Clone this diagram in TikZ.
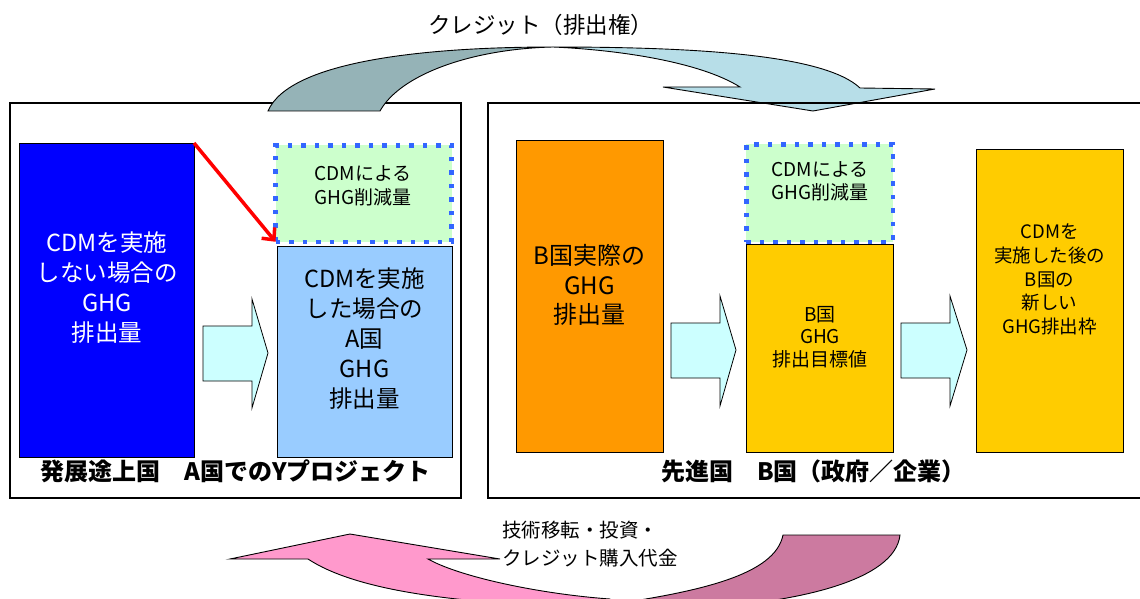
\documentclass[tikz,border=0pt]{standalone}
\usepackage{fontspec}
\setmainfont{Noto Sans CJK JP}
\usetikzlibrary{arrows.meta}
\definecolor{cdmblue}{HTML}{0000FF}
\definecolor{lightblue}{HTML}{99CCFF}
\definecolor{cdmgreen}{HTML}{CCFFCC}
\definecolor{dotblue}{HTML}{3366FF}
\definecolor{orangebox}{HTML}{FF9900}
\definecolor{yellowbox}{HTML}{FFCC00}
\definecolor{arrowcyan}{HTML}{CCFFFF}
\definecolor{topgrey}{HTML}{95B3B7}
\definecolor{topcyan}{HTML}{B7DEE8}
\definecolor{pinklight}{HTML}{FF99CC}
\definecolor{pinkdark}{HTML}{CC7AA0}
\begin{document}
\begin{tikzpicture}[x=1pt,y=-1pt,
  box/.style={draw=black, line width=0.8pt, inner sep=0pt, outer sep=0pt},
  dotbox/.style={draw=dotblue, line width=4.5pt, dash pattern=on 4.5pt off 9pt, fill=cdmgreen, inner sep=0pt, outer sep=0pt},
  frame/.style={draw=black, line width=1.2pt},
  lbl/.style={align=center, inner sep=0pt},
  blockarrow/.style={draw=black, line width=0.8pt, fill=arrowcyan, line join=miter},
  curvarrow/.style={draw=black, line width=0.9pt, line join=miter},
  heading/.style={inner sep=0pt, font=\bfseries\fontsize{24}{28}\selectfont}
]
\path[use as bounding box] (0,0) rectangle (1140,599);

% frames and top curved arrow
\draw[frame] (10,103) rectangle (461,498);
\draw[curvarrow, fill=topgrey] (268,111) .. controls (290,60) and (430,47) .. (553,47)
  .. controls (470,49) and (400,75) .. (380,111) -- cycle;
\draw[curvarrow, fill=topcyan] (553,47) .. controls (700,47) and (825,55) .. (860,88)
  -- (935,89) -- (813,111) -- (663,87) -- (740,87)
  .. controls (700,62) and (620,50) .. (553,47) -- cycle;
\draw[frame] (1145,103) -- (488,103) -- (488,498) -- (1145,498);

\node[inner sep=0pt, font=\fontsize{22.5}{26}\selectfont] (credit) at (540.5,25) {クレジット（排出権）};

% left panel
\node[box, fill=cdmblue, minimum width=175pt, minimum height=314pt] (blueA) at (106.5,300) {};
\node[box, fill=lightblue, minimum width=175pt, minimum height=211pt] (lbA) at (364.5,351.5) {};
\node[dotbox, minimum width=176pt, minimum height=96.5pt] (gA) at (363.5,193.5) {};
\node[lbl, text=white, font=\fontsize{23.5}{30}\selectfont] (tBlue) at (107,288) {CDMを実施\\しない場合の\\GHG\\排出量};
\node[lbl, font=\fontsize{23.5}{30}\selectfont] (tLB) at (364.5,339) {CDMを実施\\した場合の\\A国\\GHG\\排出量};
\node[lbl, font=\fontsize{19}{24}\selectfont] (tGA) at (363,186) {CDMによる\\GHG削減量};
\draw[blockarrow] (203,326) -- (252,326) -- (252,299) -- (268,353) -- (252,408) -- (252,381) -- (203,381) -- cycle;
\draw[red, line width=3.5pt, -{Straight Barb[length=9pt,width=17pt]}] (blueA.north east) -- (gA.south west);
\node[heading] (labA) at (235.5,471) {発展途上国　A国でのYプロジェクト};

% right panel
\node[box, fill=orangebox, minimum width=147pt, minimum height=312pt] (orB) at (589.5,296) {};
\node[box, fill=yellowbox, minimum width=147pt, minimum height=208pt] (ymB) at (819.5,348) {};
\node[dotbox, minimum width=146.5pt, minimum height=97.5pt] (gB) at (819.5,193) {};
\node[box, fill=yellowbox, minimum width=147pt, minimum height=303pt] (yrB) at (1049.5,300.5) {};
\node[lbl, font=\fontsize{24}{29.5}\selectfont] (tOr) at (589.5,285) {B国実際の\\GHG\\排出量};
\node[lbl, font=\fontsize{19}{23}\selectfont] (tGB) at (820,181.5) {CDMによる\\GHG削減量};
\node[lbl, font=\fontsize{19}{22.5}\selectfont] (tYM) at (820,337) {B国\\GHG\\排出目標値};
\node[lbl, font=\fontsize{18.5}{23.75}\selectfont] (tYR) at (1049.5,279.5) {CDMを\\実施した後の\\B国の\\新しい\\GHG排出枠};
\draw[blockarrow] (671,323) -- (720,323) -- (720,296) -- (736,350) -- (720,406) -- (720,378) -- (671,378) -- cycle;
\draw[blockarrow] (901,323) -- (950,323) -- (950,296) -- (967,350) -- (950,406) -- (950,378) -- (901,378) -- cycle;
\node[heading] (labB) at (813.5,471) {先進国　B国（政府／企業）};

% bottom curved arrow
\draw[curvarrow, fill=pinkdark] (600,606) .. controls (700,592) and (775,575) .. (783,535)
  -- (900,535) .. controls (895,580) and (800,602) .. (700,608) -- cycle;
\draw[curvarrow, fill=pinklight] (230,559) -- (350,534) -- (500,559) -- (428,559)
  .. controls (460,577) and (540,594) .. (610,599) -- (612,606) -- (560,606)
  .. controls (450,602) and (355,590) .. (308,559) -- cycle;
\node[inner sep=0pt, anchor=west, align=left, font=\fontsize{19.5}{27.5}\selectfont] (money) at (502,544) {技術移転・投資・\\クレジット購入代金};
\end{tikzpicture}
\end{document}
